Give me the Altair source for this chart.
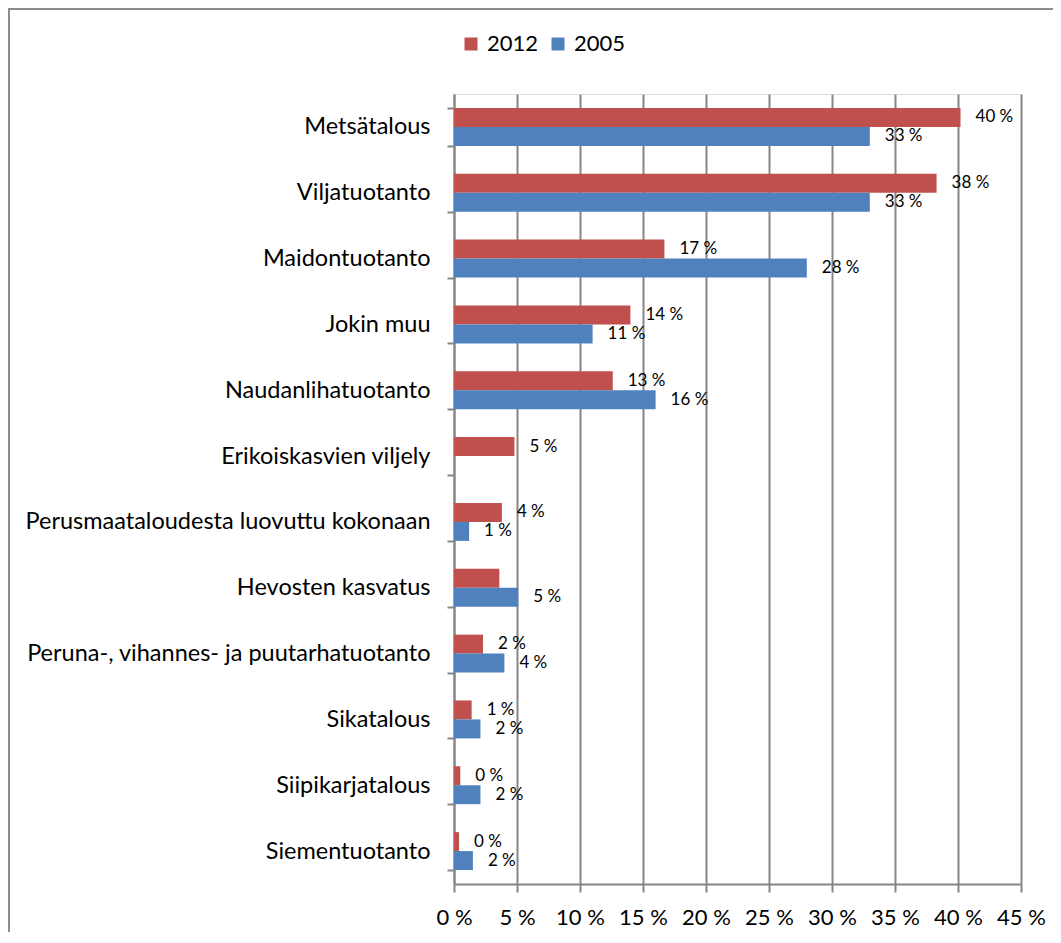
import altair as alt
import pandas as pd

categories = [
    "Metsätalous",
    "Viljatuotanto",
    "Maidontuotanto",
    "Jokin muu",
    "Naudanlihatuotanto",
    "Erikoiskasvien viljely",
    "Perusmaataloudesta luovuttu kokonaan",
    "Hevosten kasvatus",
    "Peruna-, vihannes- ja puutarhatuotanto",
    "Sikatalous",
    "Siipikarjatalous",
    "Siementuotanto",
]
values_2012 = [40.2, 38.3, 16.7, 14.0, 12.6, 4.8, 3.8, 3.6, 2.3, 1.4, 0.5, 0.4]
values_2005 = [33.0, 33.0, 28.0, 11.0, 16.0, None, 1.2, 5.1, 4.0, 2.1, 2.1, 1.5]
labels_2012 = ["40 %", "38 %", "17 %", "14 %", "13 %", "5 %", "4 %", "", "2 %", "1 %", "0 %", "0 %"]
labels_2005 = ["33 %", "33 %", "28 %", "11 %", "16 %", "", "1 %", "5 %", "4 %", "2 %", "2 %", "2 %"]
series = ["2012", "2005"]
colors = ["#C0504D", "#4F81BD"]
x_ticks = [0, 5, 10, 15, 20, 25, 30, 35, 40, 45]

rows = []
for s, vals, labs in [("2012", values_2012, labels_2012), ("2005", values_2005, labels_2005)]:
    for c, v, l in zip(categories, vals, labs):
        if v is None:
            continue
        rows.append({"category": c, "series": s, "value": v, "label": l})
df = pd.DataFrame(rows)

FONT = "Lato"
GRID = "#868686"

y_enc = alt.Y(
    "category:N",
    sort=categories,
    title=None,
    scale=alt.Scale(paddingInner=0.424, paddingOuter=0.212),
    axis=alt.Axis(
        labelFont=FONT,
        labelFontSize=23.5,
        labelColor="#000000",
        labelPadding=17,
        tickBand="extent",
        tickSize=7,
        tickColor=GRID,
        tickWidth=2,
        domainColor=GRID,
        domainWidth=2,
        grid=False,
        labelLimit=500,
    ),
)
yoff_enc = alt.YOffset("series:N", sort=series, scale=alt.Scale(paddingInner=0, paddingOuter=0))
x_enc = alt.X(
    "value:Q",
    title=None,
    scale=alt.Scale(domain=[0, 45], nice=False),
    axis=alt.Axis(
        values=x_ticks,
        labelExpr="datum.value + ' %'",
        labelFont=FONT,
        labelFontSize=22,
        labelColor="#000000",
        labelPadding=15,
        labelOverlap=False,
        labelFlush=False,
        tickSize=8,
        tickColor=GRID,
        tickWidth=2,
        domainColor=GRID,
        domainWidth=2,
        grid=True,
        gridColor=GRID,
        gridWidth=2,
    ),
)

bars = alt.Chart(df).mark_bar().encode(
    y=y_enc,
    yOffset=yoff_enc,
    x=x_enc,
    color=alt.Color(
        "series:N",
        sort=series,
        scale=alt.Scale(domain=series, range=colors),
        legend=alt.Legend(
            title=None,
            orient="none",
            direction="horizontal",
            legendX=6,
            legendY=-61,
            symbolType="square",
            symbolSize=169,
            symbolStrokeWidth=0,
            labelFont=FONT,
            labelFontSize=22,
            labelColor="#000000",
            labelOffset=5,
            columnPadding=8,
            padding=0,
        ),
    ),
)

texts = alt.Chart(df).mark_text(
    align="left", baseline="middle", dx=15, font=FONT, fontSize=17, color="#000000"
).encode(
    y=alt.Y("category:N", sort=categories),
    yOffset=alt.YOffset("series:N", sort=series),
    x=alt.X("value:Q"),
    text="label:N",
)

border = alt.Chart(alt.Data(values=[{"a": 1}])).mark_rect(
    color="#FFFFFF", fillOpacity=0, stroke="#8C8C8C", strokeWidth=2, clip=False
).encode(
    x=alt.value(-445), x2=alt.value(640), y=alt.value(-85), y2=alt.value(900)
)

chart = alt.layer(border, bars, texts).properties(
    width=567,
    height=790,
    autosize=alt.AutoSizeParams(type="none"),
    padding={"left": 446, "top": 86, "right": 32, "bottom": 48},
).configure_view(stroke=None).configure(background="#FFFFFF")

chart.save("out.html", embed_options={"renderer": "svg", "actions": False})
